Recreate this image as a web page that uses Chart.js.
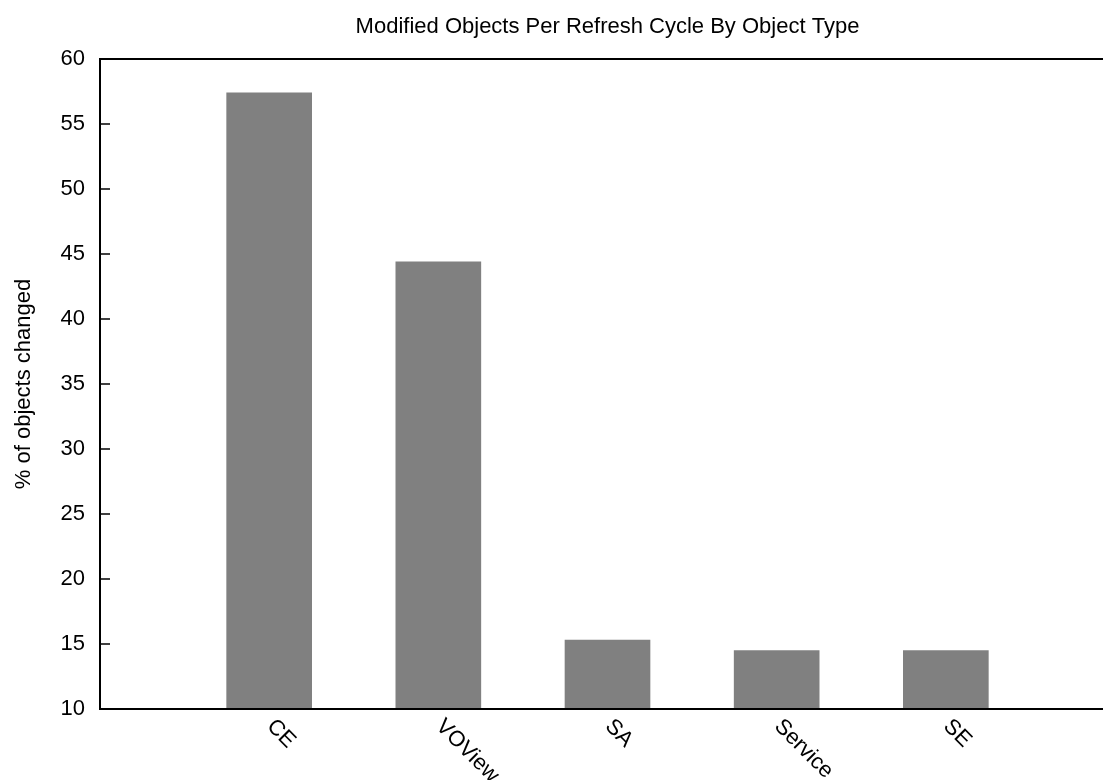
<!DOCTYPE html>
<html>
<head>
<meta charset="utf-8">
<script src="https://cdn.jsdelivr.net/npm/chart.js@4/dist/chart.umd.min.js"></script>
<style>
  html, body { margin: 0; padding: 0; background: #fff; overflow: hidden; }
  canvas { display: block; }
</style>
</head>
<body>
<canvas id="chart" width="1120" height="780" style="width:1120px;height:780px"></canvas>
<script>
const chartTitle = "Modified Objects Per Refresh Cycle By Object Type";
const yAxisTitle = "% of objects changed";
const objectTypes = ["CE", "VOView", "SA", "Service", "SE"];
const percentChanged = [57.4, 44.4, 15.3, 14.5, 14.5];
const yTicks = [10, 15, 20, 25, 30, 35, 40, 45, 50, 55, 60];

const FONT = "'Liberation Sans', Arial, Helvetica, sans-serif";
const FONT_SIZE = 22;

// border box, inward y ticks, slanted category labels and the title
const frame = {
  id: 'frame',
  afterDraw(chart) {
    const { ctx, chartArea: a, scales: { x, y } } = chart;
    ctx.save();
    ctx.strokeStyle = '#000';
    ctx.lineWidth = 2;
    ctx.beginPath();
    ctx.moveTo(a.left, a.top);
    ctx.lineTo(a.right, a.top);
    ctx.lineTo(a.right, a.bottom);
    ctx.lineTo(a.left, a.bottom);
    ctx.closePath();
    ctx.stroke();

    ctx.lineWidth = 1.5;
    ctx.beginPath();
    yTicks.forEach((v) => {
      const py = Math.round(y.getPixelForValue(v));
      ctx.moveTo(a.left, py);
      ctx.lineTo(a.left + 10, py);
    });
    ctx.stroke();

    ctx.fillStyle = '#000';
    ctx.font = FONT_SIZE + 'px ' + FONT;
    ctx.textAlign = 'left';
    ctx.textBaseline = 'middle';
    objectTypes.forEach((name, i) => {
      const px = x.getPixelForValue(i);
      ctx.save();
      ctx.translate(px + 1, a.bottom + 14);
      ctx.rotate(Math.PI / 4);
      ctx.fillText(name, 0, 0);
      ctx.restore();
    });

    ctx.textAlign = 'center';
    ctx.textBaseline = 'alphabetic';
    ctx.fillText(chartTitle, (a.left + a.right) / 2, 33);
    ctx.restore();
  }
};

new Chart(document.getElementById('chart'), {
  type: 'bar',
  data: {
    datasets: [{
      data: objectTypes.map((name, i) => ({ x: i, y: percentChanged[i] })),
      backgroundColor: '#808080',
      borderWidth: 0,
      barThickness: 85
    }]
  },
  options: {
    responsive: false,
    animation: false,
    layout: { padding: { left: 0, top: 59, right: 5, bottom: 71 } },
    plugins: {
      legend: { display: false },
      tooltip: { enabled: false }
    },
    scales: {
      x: {
        type: 'linear',
        min: -1,
        max: 5,
        offset: false,
        display: false
      },
      y: {
        min: 10,
        max: 60,
        afterFit(scale) { scale.width = 100; },
        afterBuildTicks(scale) { scale.ticks = yTicks.map((v) => ({ value: v })); },
        grid: { display: false, drawTicks: false },
        border: { display: false },
        ticks: {
          color: '#000',
          padding: 15,
          font: { family: FONT, size: FONT_SIZE }
        },
        title: {
          display: true,
          text: yAxisTitle,
          color: '#000',
          padding: { top: 11, bottom: 0 },
          font: { family: FONT, size: FONT_SIZE }
        }
      }
    }
  },
  plugins: [frame]
});
</script>
</body>
</html>
